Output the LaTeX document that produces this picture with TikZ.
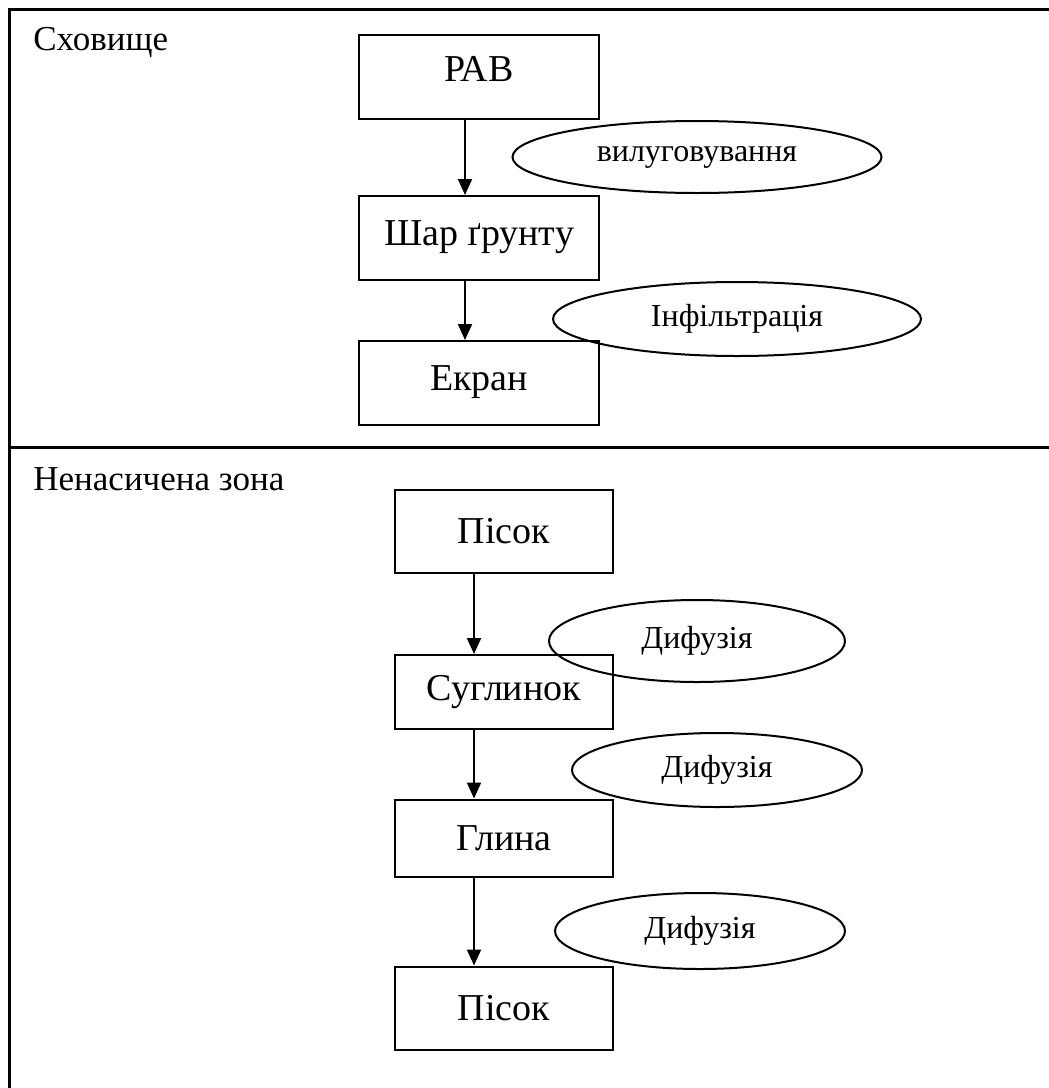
\documentclass[tikz,border=0pt]{standalone}
\usepackage{fontspec}
\setmainfont{Liberation Serif}
\usetikzlibrary{shapes.geometric,arrows.meta}

\begin{document}
\begin{tikzpicture}[
    x=0.5pt, y=-0.5pt,
    frame/.style={line width=1.5pt},
    zone/.style={anchor=base west, inner sep=0pt, font=\fontsize{17.5}{21}\selectfont},
    layer/.style={draw, line width=1pt, rectangle, minimum width=120pt, minimum height=42pt, inner sep=0pt, font=\fontsize{19}{22}\selectfont},
    toplayer/.style={layer, text height=12.5pt, text depth=5pt},
    process/.style={draw, line width=1pt, ellipse, inner sep=0pt, font=\fontsize{16}{19}\selectfont},
    flow/.style={line width=1pt, -{Triangle[length=8pt, width=7pt]}}
]
    \useasboundingbox (0,0) rectangle (1049,1088);

    % table lines
    \draw[frame] (1049,9) -- (9,9) -- (9,1088);
    \draw[frame] (9,447) -- (1049,447);

    \node[zone] (storage) at (33,50) {Сховище};
    \node[zone] (vadose) at (33,490) {Ненасичена зона};

    % storage
    \node[toplayer, text depth=8pt] (rav) at (479,77) {РАВ};
    \node[toplayer] (soil) at (479,238) {Шар ґрунту};
    \node[toplayer] (screen) at (479,383) {Екран};

    \draw[flow] ([xshift=-7]rav.south) -- ([xshift=-7]soil.north);
    \draw[flow] ([xshift=-7]soil.south) -- ([xshift=-7]screen.north);

    \node[process, minimum width=184.5pt, minimum height=36pt] (leach) at (697,157) {вилуговування};
    \node[process, minimum width=184pt, minimum height=37pt] (infil) at (737,319) {Інфільтрація};

    % unsaturated zone
    \node[layer, minimum width=109pt, minimum height=41.5pt] (sand1) at (504,531) {Пісок};
    \node[layer, minimum width=109pt, minimum height=37pt] (loam) at (504,692) {Суглинок};
    \node[layer, minimum width=109pt, minimum height=38.5pt] (clay) at (504,838) {Глина};
    \node[layer, minimum width=109pt, minimum height=41.5pt] (sand2) at (504,1008) {Пісок};

    \draw[flow] ([xshift=-15]sand1.south) -- ([xshift=-15]loam.north);
    \draw[flow] ([xshift=-15]loam.south) -- ([xshift=-15]clay.north);
    \draw[flow] ([xshift=-15]clay.south) -- ([xshift=-15]sand2.north);

    \node[process, minimum width=148pt, minimum height=41pt] (diff1) at (697,641) {Дифузія};
    \node[process, minimum width=145pt, minimum height=37pt] (diff2) at (717,770) {Дифузія};
    \node[process, minimum width=145pt, minimum height=38pt] (diff3) at (700,931) {Дифузія};
\end{tikzpicture}
\end{document}
